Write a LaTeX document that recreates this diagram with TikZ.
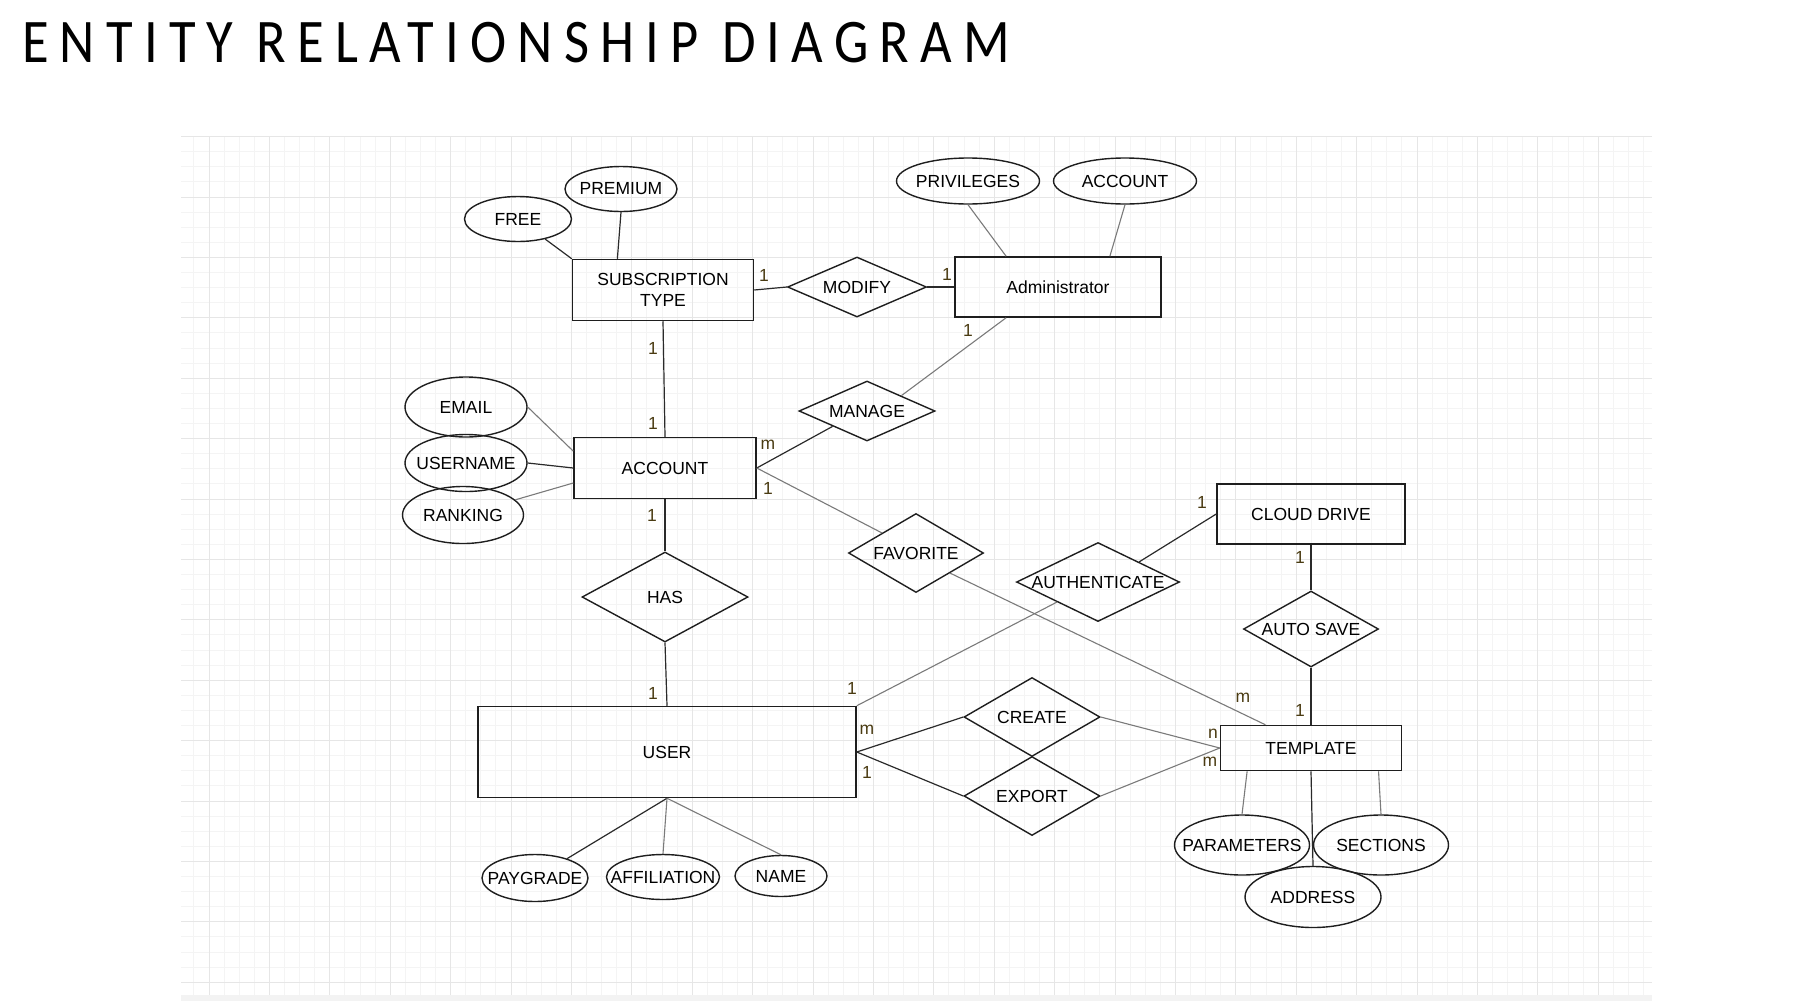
\documentclass[tikz,border=0pt]{standalone}
\usepackage{fontspec}
\setmainfont{Liberation Sans}
\newfontfamily\titlefont[FakeStretch=0.88, LetterSpace=18]{Carlito}
\usepackage{tikz}
\usetikzlibrary{shapes.geometric}
\usetikzlibrary{calc}
\usetikzlibrary{positioning}
\usepackage{xcolor}
\definecolor{shapeline}{HTML}{1E1E1E}
\definecolor{edgedark}{HTML}{2A2A2A}
\definecolor{edgegray}{HTML}{7A7A7A}
\definecolor{cardtext}{HTML}{4A3B12}
\definecolor{gridminor}{HTML}{F4F4F4}
\definecolor{gridmajor}{HTML}{E6E6E6}
\definecolor{gridstrip}{HTML}{F3F3F3}

\tikzset{
  slim/.style={execute at begin node={\hbox to 0pt\bgroup\hss}, execute at end node={\hss\egroup}},
  entity/.style={draw=shapeline, line width=1.5pt, rectangle, align=center, inner sep=0pt},
  attr/.style={draw=shapeline, line width=1.4pt, ellipse, inner sep=0pt, slim},
  rel/.style={draw=shapeline, line width=1.4pt, diamond, inner sep=0pt, slim},
  card/.style={text=cardtext, inner sep=0pt},
  link/.style={draw=edgedark, line width=1.2pt},
  faint/.style={draw=edgegray, line width=1.1pt},
}

\begin{document}
\begin{tikzpicture}[x=1pt, y=-1pt, font=\fontsize{17.5}{21}\selectfont]
    \useasboundingbox (0,0) rectangle (1806,1002);

    % grid paper
    \fill[gridstrip] (181,995) rectangle (1652,1001);
    \foreach \k in {-1,...,95}
        \draw[gridminor, line width=1pt] ({209+15.1*\k},137) -- ({209+15.1*\k},995);
    \foreach \k in {-4,...,52}
        \draw[gridminor, line width=1pt] (181,{197+15.1*\k}) -- (1652,{197+15.1*\k});
    \foreach \k in {0,...,23}
        \draw[gridmajor, line width=1pt] ({209+60.4*\k},137) -- ({209+60.4*\k},995);
    \foreach \k in {-1,...,13}
        \draw[gridmajor, line width=1pt] (181,{197+60.4*\k}) -- (1652,{197+60.4*\k});

    % Title
    \node[anchor=base west, inner sep=0pt, font=\titlefont\fontsize{62}{70}\selectfont] (title) at (22,62) {ENTITY RELATIONSHIP DIAGRAM};

    % Entities
    \node[entity, minimum width=181, minimum height=61] (sub) at (663,290) {SUBSCRIPTION\\TYPE};
    \node[entity, minimum width=206, minimum height=60] (admin) at (1058,287) {Administrator};
    \node[entity, minimum width=182, minimum height=61] (account) at (665,468) {ACCOUNT};
    \node[entity, minimum width=378, minimum height=91] (user) at (667,752) {USER};
    \node[entity, minimum width=188, minimum height=60] (cloud) at (1311,514) {CLOUD DRIVE};
    \node[entity, minimum width=181, minimum height=45] (template) at (1311,748) {TEMPLATE};

    % Relationships
    \node[rel, minimum width=139, minimum height=60] (modify) at (857,287) {MODIFY};
    \node[rel, minimum width=136, minimum height=60] (manage) at (867,411) {MANAGE};
    \node[rel, minimum width=166, minimum height=90] (has) at (665,597) {HAS};
    \node[rel, minimum width=135, minimum height=79] (favorite) at (916,553) {FAVORITE};
    \node[rel, minimum width=163, minimum height=79] (auth) at (1098,582) {AUTHENTICATE};
    \node[rel, minimum width=135, minimum height=76] (autosave) at (1311,629) {AUTO SAVE};
    \node[rel, minimum width=136, minimum height=79] (create) at (1032,717) {CREATE};
    \node[rel, minimum width=136, minimum height=79] (export) at (1032,796) {EXPORT};

    % Attributes
    \node[attr, minimum width=107, minimum height=45] (free) at (518,219) {FREE};
    \node[attr, minimum width=112, minimum height=45] (premium) at (621,189) {PREMIUM};
    \node[attr, minimum width=143, minimum height=46] (privileges) at (968,181) {PRIVILEGES};
    \node[attr, minimum width=143, minimum height=46] (adminacc) at (1125,181) {ACCOUNT};
    \node[attr, minimum width=122, minimum height=60] (email) at (466,407) {EMAIL};
    \node[attr, minimum width=122, minimum height=57] (username) at (466,463) {USERNAME};
    \node[attr, minimum width=121, minimum height=57] (ranking) at (463,515) {RANKING};
    \node[attr, minimum width=106, minimum height=47] (paygrade) at (535,878) {PAYGRADE};
    \node[attr, minimum width=113, minimum height=45] (affiliation) at (663,877) {AFFILIATION};
    \node[attr, minimum width=92, minimum height=41] (name) at (781,876) {NAME};
    \node[attr, minimum width=135, minimum height=60] (params) at (1242,845) {PARAMETERS};
    \node[attr, minimum width=135, minimum height=60] (sections) at (1381,845) {SECTIONS};
    \node[attr, minimum width=136, minimum height=61] (address) at (1313,897) {ADDRESS};

    % Relationships lines
    \draw[link] (sub.east) -- (modify.west);
    \draw[link] (modify.east) -- (admin.west);
    \draw[link] (sub.south) -- (account.north);
    \draw[faint] ($(admin.south west)!0.25!(admin.south east)$) -- ($(manage.north)!0.5!(manage.east)$);
    \draw[link] (account.east) -- ($(manage.west)!0.5!(manage.south)$);
    \draw[faint] (account.east) -- ($(favorite.west)!0.5!(favorite.north)$);
    \draw[faint] ($(favorite.east)!0.5!(favorite.south)$) -- ($(template.north west)!0.25!(template.north east)$);
    \draw[link] (account.south) -- (has.north);
    \draw[link] (has.south) -- (user.north);
    \draw[faint] ($(auth.west)!0.5!(auth.south)$) -- (user.north east);
    \draw[link] (cloud.west) -- ($(auth.north)!0.5!(auth.east)$);
    \draw[link] (cloud.south) -- (autosave.north);
    \draw[link] (autosave.south) -- (template.north);
    \draw[link] (user.east) -- (create.west);
    \draw[link] (user.east) -- (export.west);
    \draw[faint] (create.east) -- (template.west);
    \draw[faint] (export.east) -- (template.west);

    % Attribute lines
    \draw[link] (free) -- (sub.north west);
    \draw[link] (premium.south) -- ($(sub.north west)!0.25!(sub.north east)$);
    \draw[faint] (privileges.south) -- ($(admin.north west)!0.25!(admin.north east)$);
    \draw[faint] (adminacc.south) -- ($(admin.north west)!0.75!(admin.north east)$);
    \draw[faint] (email.east) -- ($(account.north west)!0.23!(account.south west)$);
    \draw[link] (username.east) -- (account.west);
    \draw[faint] (ranking) -- ($(account.north west)!0.74!(account.south west)$);
    \draw[link] (user.south) -- (paygrade);
    \draw[faint] (user.south) -- (affiliation.north);
    \draw[faint] (user.south) -- (name.north);
    \draw[faint] (params.north) -- ($(template.south west)!0.15!(template.south east)$);
    \draw[link] (template.south) -- (address.north);
    \draw[faint] (sections.north) -- ($(template.south west)!0.87!(template.south east)$);

    % Cardinalities
    \node[card] (c1) at (764,275) {1};
    \node[card] (c2) at (947,274) {1};
    \node[card] (c3) at (968,330) {1};
    \node[card] (c4) at (653,348) {1};
    \node[card] (c5) at (653,423) {1};
    \node[card] (c6) at (768,445) {m};
    \node[card] (c7) at (768,488) {1};
    \node[card] (c8) at (652,515) {1};
    \node[card] (c9) at (653,693) {1};
    \node[card] (c10) at (852,688) {1};
    \node[card] (c11) at (867,730) {m};
    \node[card] (c12) at (867,772) {1};
    \node[card] (c13) at (1202,502) {1};
    \node[card] (c14) at (1300,557) {1};
    \node[card] (c15) at (1243,698) {m};
    \node[card] (c16) at (1300,710) {1};
    \node[card] (c17) at (1213,734) {n};
    \node[card] (c18) at (1210,762) {m};
\end{tikzpicture}
\end{document}
